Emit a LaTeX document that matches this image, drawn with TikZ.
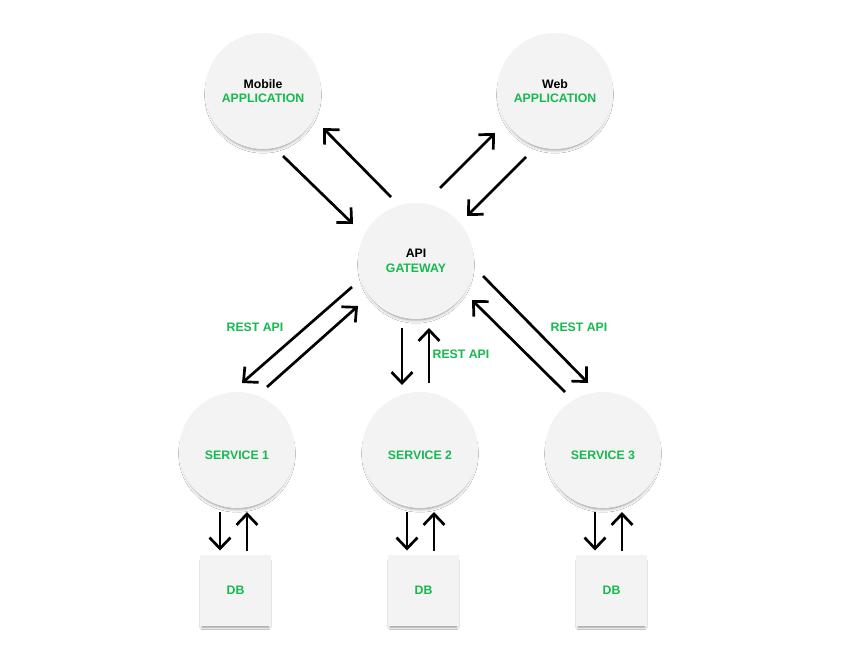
\documentclass[tikz,border=0pt]{standalone}
\usepackage{fontspec}
\setmainfont{Liberation Sans}
\usetikzlibrary{arrows.meta,shadows.blur,calc}
\definecolor{grn}{RGB}{22,185,80}
\definecolor{nodefill}{RGB}{243,243,243}
\begin{document}
\begin{tikzpicture}[x=1pt,y=-1pt,
  circ/.style={circle,minimum size=116pt,inner sep=0pt,fill=nodefill,
    blur shadow={shadow xshift=0pt,shadow yshift=-4pt,shadow scale=0.95,shadow blur radius=3.5pt,shadow blur steps=8,shadow opacity=45},
    font=\fontsize{12.3}{15}\selectfont\bfseries,align=center},
  dbbox/.style={rectangle,minimum size=71pt,inner sep=0pt,fill=nodefill,
    blur shadow={shadow xshift=0pt,shadow yshift=-3.5pt,shadow scale=0.94,shadow blur radius=2.5pt,shadow blur steps=6,shadow opacity=45},
    font=\fontsize{12.3}{15}\selectfont\bfseries,text=grn},
  lbl/.style={font=\fontsize{12.3}{15}\selectfont\bfseries,text=grn},
  arr/.style={line width=2.7pt,-{Straight Barb[length=11pt,width=21pt,line width=2.7pt]}}]
\useasboundingbox (0,0) rectangle (842,659);
\fill[white] (0,0) rectangle (842,659);
\node[circ] (mob) at (263,91) {Mobile\\[-0.5pt]\textcolor{grn}{APPLICATION}};
\node[circ] (web) at (555,91) {Web\\[-0.5pt]\textcolor{grn}{APPLICATION}};
\node[circ] (api) at (416,261) {API\\[-0.5pt]\textcolor{grn}{GATEWAY}};
\node[circ] (s1) at (237,450) {};
\node[circ] (s2) at (420,450) {};
\node[circ] (s3) at (603,450) {};
\node[lbl] (t1) at ($(s1)+(0,5)$) {SERVICE 1};
\node[lbl] (t2) at ($(s2)+(0,5)$) {SERVICE 2};
\node[lbl] (t3) at ($(s3)+(0,5)$) {SERVICE 3};
\node[dbbox] (db1) at (235.5,590.5) {DB};
\node[dbbox] (db2) at (423.5,590.5) {DB};
\node[dbbox] (db3) at (611.5,590.5) {DB};
% mobile <-> api
\draw[arr] ($(mob)+(20,65)$) -- ($(api)+(-63,-37)$);
\draw[arr] ($(api)+(-25,-64)$) -- ($(mob)+(60,37)$);
% web <-> api
\draw[arr] ($(api)+(24,-73)$) -- ($(web)+(-60,42)$);
\draw[arr] ($(web)+(-29,66)$) -- ($(api)+(51,-45)$);
% api <-> s1
\draw[arr] ($(api)+(-64,26)$) -- ($(s1)+(5,-67)$);
\draw[arr] ($(s1)+(30,-63)$) -- ($(api)+(-58,45)$);
% api <-> s2
\draw[arr] ($(api)+(-14,67)$) -- ($(s2)+(-18,-65)$);
\draw[arr] ($(s2)+(9,-67)$) -- ($(api)+(13,67)$);
% api <-> s3
\draw[arr] ($(api)+(67,15)$) -- ($(s3)+(-15,-67)$);
\draw[arr] ($(s3)+(-38,-58)$) -- ($(api)+(56,39)$);
% services <-> dbs
\draw[arr] ($(s1)+(-17,62)$) -- ($(db1)+(-15.5,-40)$);
\draw[arr] ($(db1)+(11.5,-40)$) -- ($(s1)+(10,62)$);
\draw[arr] ($(s2)+(-13,62)$) -- ($(db2)+(-16.5,-40)$);
\draw[arr] ($(db2)+(10.5,-40)$) -- ($(s2)+(14,62)$);
\draw[arr] ($(s3)+(-8,62)$) -- ($(db3)+(-16.5,-40)$);
\draw[arr] ($(db3)+(10.5,-40)$) -- ($(s3)+(19,62)$);
\node[lbl] (l1) at (255,327) {REST API};
\node[lbl] (l2) at (461,354) {REST API};
\node[lbl] (l3) at (579,327) {REST API};
\end{tikzpicture}
\end{document}
